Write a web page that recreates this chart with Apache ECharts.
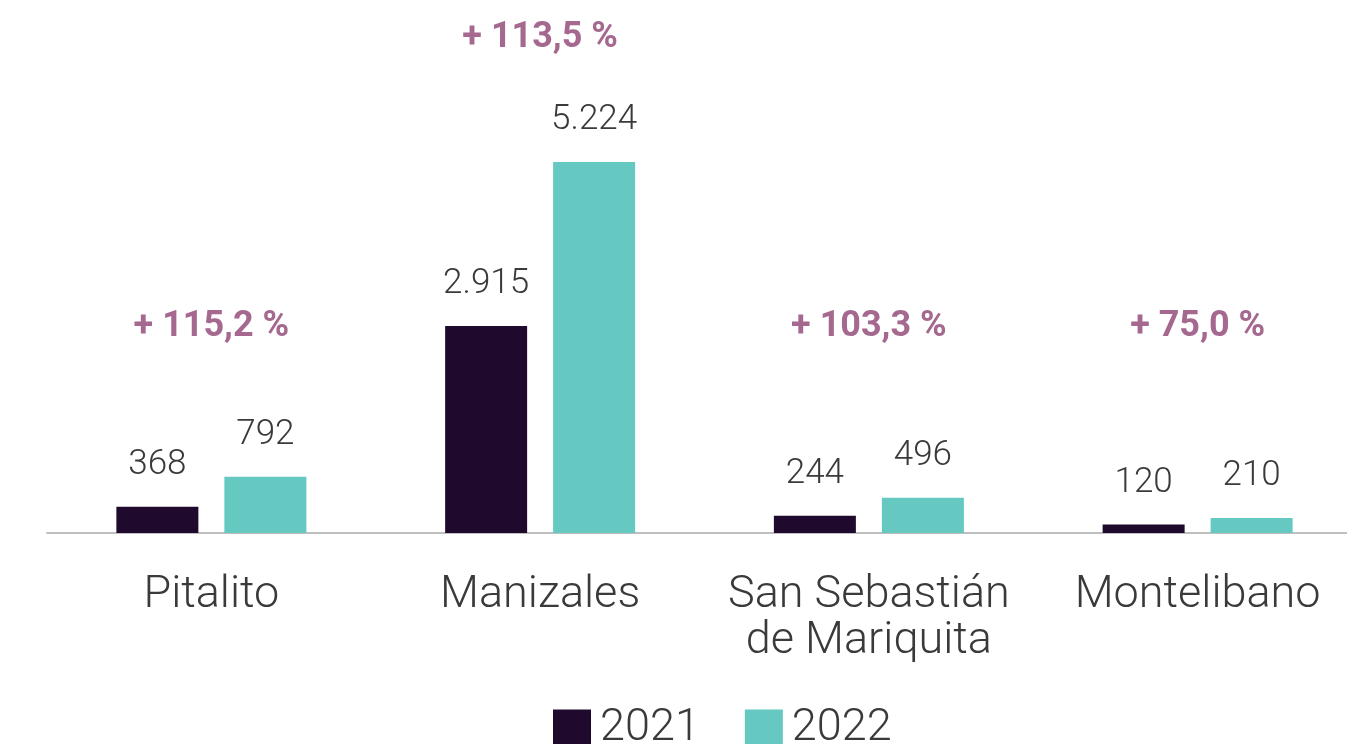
<!DOCTYPE html>
<html>
<head>
<meta charset="utf-8">
<script src="https://cdn.jsdelivr.net/npm/echarts@6/dist/echarts.min.js"></script>
<style>
html,body{margin:0;padding:0;background:#fff}
#chart{width:1347px;height:744px}
</style>
</head>
<body>
<div id="chart"></div>
<script>
// datos
var municipios=['Pitalito','Manizales','San Sebastián\nde Mariquita','Montelibano'];
var casos2021=[368,2915,244,120];
var casos2022=[792,5224,496,210];
var variacion=['+ 115,2 %','+ 113,5 %','+ 103,3 %','+ 75,0 %'];

var colorTexto='#3a3a3a';
var fuente='Roboto';

function miles(v){
	return String(v).replace(/\B(?=(\d{3})+(?!\d))/g,'.');
}

var chart=echarts.init(document.getElementById('chart'));
var etiqueta={
	show:true,
	position:'top',
	distance:24,
	color:colorTexto,
	fontFamily:fuente,
	fontWeight:300,
	fontSize:35,
	formatter:function(p){return miles(p.value);}
};
var option={
	animation:false,
	grid:{left:47,width:1315,top:36,bottom:211,containLabel:false,outerBoundsMode:'none'},
	legend:{
		left:553,
		top:706,
		padding:0,
		icon:'rect',
		itemWidth:38,
		itemHeight:38,
		itemGap:45,
		textStyle:{color:colorTexto,fontFamily:fuente,fontWeight:300,fontSize:45,padding:[0,0,0,4]},
		data:['2021','2022']
	},
	xAxis:{
		type:'category',
		data:municipios,
		axisTick:{show:false},
		axisLine:{lineStyle:{color:'#bfbfbf',width:2}},
		axisLabel:{
			interval:0,
			margin:40,
			color:colorTexto,
			fontFamily:fuente,
			fontWeight:300,
			fontSize:45,
			lineHeight:46
		}
	},
	yAxis:{type:'value',min:0,max:7000,show:false,splitLine:{show:false}},
	series:[
		{name:'2021',type:'bar',data:casos2021,barWidth:82,barGap:'31.7%',
			itemStyle:{color:'#1f0a2d'},label:etiqueta},
		{name:'2022',type:'bar',data:casos2022,barWidth:82,barGap:'31.7%',
			itemStyle:{color:'#65c8c1'},label:etiqueta}
	]
};
chart.setOption(option);

// etiquetas de variacion sobre cada grupo
var textos=[];
for(var i=0;i<municipios.length;i++){
	var mayor=Math.max(casos2021[i],casos2022[i]);
	var p=chart.convertToPixel({seriesIndex:0},[i,mayor]);
	textos.push({
		type:'text',
		x:p[0],
		y:Math.min(327,p[1]-124),
		style:{
			text:variacion[i],
			fill:'#a5688f',
			font:'bold 36px '+fuente,
			textAlign:'center',
			textVerticalAlign:'middle'
		}
	});
}
chart.setOption({graphic:textos});
</script>
</body>
</html>
